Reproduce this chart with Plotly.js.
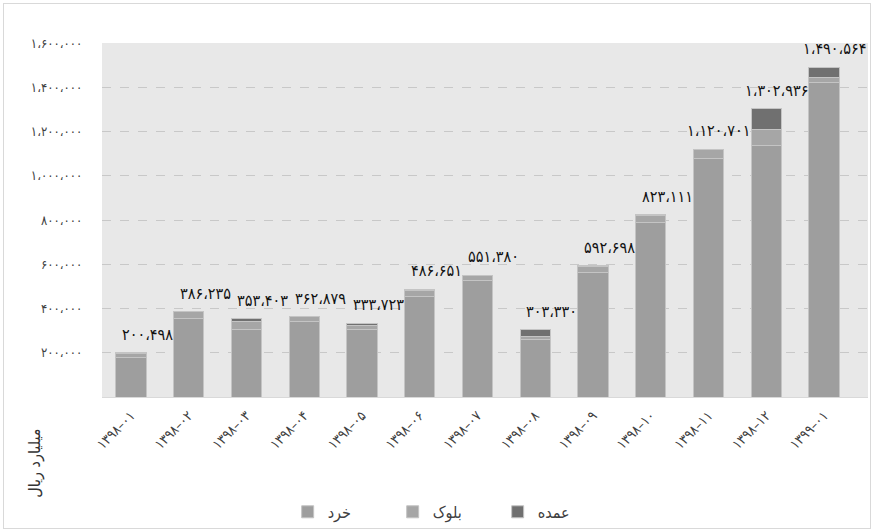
<!DOCTYPE html>
<html>
<head>
<meta charset="utf-8">
<script src="https://cdn.plot.ly/plotly-3.0.1.min.js"></script>
<style>
  html, body { margin: 0; padding: 0; background: #ffffff; }
  #chart { width: 874px; height: 531px; }
  #frame { position: absolute; left: 3px; top: 3px; width: 866px; height: 524px;
           border: 1px solid #d9d9d9; pointer-events: none; }
</style>
</head>
<body>
<div id="chart"></div>
<div id="frame"></div>
<script>
// ---- data ----
const categories = ["1398-01","1398-02","1398-03","1398-04","1398-05","1398-06","1398-07",
                    "1398-08","1398-09","1398-10","1398-11","1398-12","1399-01"];
const categoryLabels = ["۱۳۹۸–۰۱","۱۳۹۸–۰۲","۱۳۹۸–۰۳","۱۳۹۸–۰۴","۱۳۹۸–۰۵","۱۳۹۸–۰۶","۱۳۹۸–۰۷",
                        "۱۳۹۸–۰۸","۱۳۹۸–۰۹","۱۳۹۸–۱۰","۱۳۹۸–۱۱","۱۳۹۸–۱۲","۱۳۹۹–۰۱"];
const retail    = [180498, 356235, 305403, 339879, 306723, 455651, 528380, 258330, 561698, 788111, 1078701, 1134936, 1422564];
const block     = [14000, 29000, 36000, 22000, 15000, 24000, 22000, 15000, 30000, 32000, 41000, 75000, 23000];
const wholesale = [6000, 1000, 12000, 1000, 12000, 7000, 1000, 30000, 1000, 3000, 1000, 93000, 45000];
const seriesNames = ["خرد", "بلوک", "عمده"];
const yTickVals = [200000, 400000, 600000, 800000, 1000000, 1200000, 1400000, 1600000];
const yTickText = ["۲۰۰،۰۰۰","۴۰۰،۰۰۰","۶۰۰،۰۰۰","۸۰۰،۰۰۰","۱،۰۰۰،۰۰۰","۱،۲۰۰،۰۰۰","۱،۴۰۰،۰۰۰","۱،۶۰۰،۰۰۰"];
const yUnit = "میلیارد ریال";

// ---- helpers ----
const faDigits = "۰۱۲۳۴۵۶۷۸۹";
function toFa(n) {
  return n.toLocaleString("en-US").replace(/,/g, "،").replace(/[0-9]/g, d => faDigits[+d]);
}
const totals = categories.map((c, i) => retail[i] + block[i] + wholesale[i]);

const FONT = "DejaVu Sans Condensed, DejaVu Sans, sans-serif";
const lineStyle = { color: "#c4c4c4", width: 1 };

const traces = [
  { type: "bar", name: seriesNames[0], x: categories, y: retail,
    marker: { color: "#9e9e9e", line: lineStyle }, hoverinfo: "skip" },
  { type: "bar", name: seriesNames[1], x: categories, y: block,
    marker: { color: "#a6a6a6", line: lineStyle }, hoverinfo: "skip" },
  { type: "bar", name: seriesNames[2], x: categories, y: wholesale,
    marker: { color: "#707070", line: lineStyle }, hoverinfo: "skip" }
];

const annotations = categories.map((c, i) => ({
  x: c, y: totals[i], xref: "x", yref: "y",
  text: toFa(totals[i]), showarrow: false,
  xanchor: "right", yanchor: "bottom", xshift: 44, yshift: 7,
  font: { family: FONT, size: 16, color: "#111111" }
}));
annotations.push({
  xref: "paper", yref: "paper", x: -0.0875, y: -0.186,
  text: yUnit, textangle: -90, showarrow: false,
  xanchor: "center", yanchor: "middle",
  font: { family: FONT, size: 16, color: "#333333" }
});

const layout = {
  width: 874, height: 531,
  margin: { l: 102, r: 6, t: 43, b: 134 },
  paper_bgcolor: "#ffffff",
  plot_bgcolor: "#e8e8e8",
  barmode: "stack",
  bargap: 0.475,
  showlegend: true,
  legend: {
    orientation: "h", xref: "paper", yref: "container",
    x: 0.448, xanchor: "center", y: 0.036, yanchor: "middle",
    traceorder: "normal",
    font: { family: FONT, size: 16, color: "#404040" },
    itemwidth: 30, entrywidth: 60
  },
  xaxis: {
    type: "category",
    tickvals: categories, ticktext: categoryLabels,
    tickangle: -45,
    tickfont: { family: FONT, size: 14, color: "#404040" },
    showgrid: false, zeroline: false,
    showline: true, linecolor: "#d9d9d9", linewidth: 1,
    ticks: "outside", ticklen: 4, tickcolor: "rgba(0,0,0,0)",
    automargin: false
  },
  yaxis: {
    range: [0, 1600000],
    tickvals: yTickVals, ticktext: yTickText,
    tickfont: { family: FONT, size: 13, color: "#404040" },
    showgrid: true, gridcolor: "#c8c8c8", griddash: "dash", gridwidth: 1,
    zeroline: false, showline: false,
    ticks: "outside", ticklen: 16, tickcolor: "rgba(0,0,0,0)",
    automargin: false
  },
  annotations: annotations
};

Plotly.newPlot("chart", traces, layout, { displayModeBar: false, staticPlot: true });
</script>
</body>
</html>
